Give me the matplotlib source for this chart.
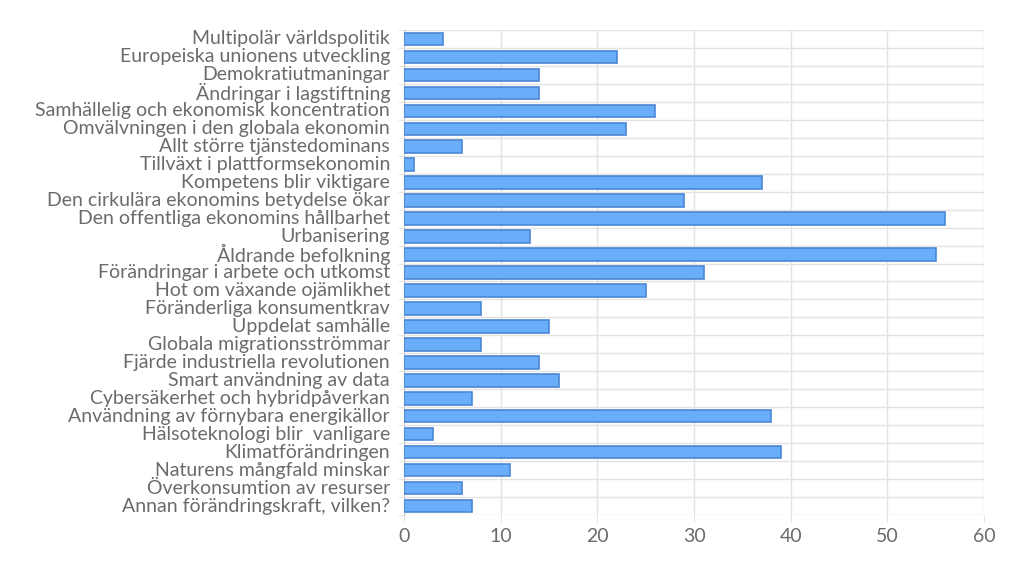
import matplotlib
matplotlib.use("Agg")
import matplotlib.pyplot as plt
import numpy as np

labels = [
    "Multipolär världspolitik",
    "Europeiska unionens utveckling",
    "Demokratiutmaningar",
    "Ändringar i lagstiftning",
    "Samhällelig och ekonomisk koncentration",
    "Omvälvningen i den globala ekonomin",
    "Allt större tjänstedominans",
    "Tillväxt i plattformsekonomin",
    "Kompetens blir viktigare",
    "Den cirkulära ekonomins betydelse ökar",
    "Den offentliga ekonomins hållbarhet",
    "Urbanisering",
    "Åldrande befolkning",
    "Förändringar i arbete och utkomst",
    "Hot om växande ojämlikhet",
    "Föränderliga konsumentkrav",
    "Uppdelat samhälle",
    "Globala migrationsströmmar",
    "Fjärde industriella revolutionen",
    "Smart användning av data",
    "Cybersäkerhet och hybridpåverkan",
    "Användning av förnybara energikällor",
    "Hälsoteknologi blir  vanligare",
    "Klimatförändringen",
    "Naturens mångfald minskar",
    "Överkonsumtion av resurser",
    "Annan förändringskraft, vilken?",
]
values = [4, 22, 14, 14, 26, 23, 6, 1, 37, 29, 56, 13, 55, 31, 25, 8,
          15, 8, 14, 16, 7, 38, 3, 39, 11, 6, 7]
xticks = [0, 10, 20, 30, 40, 50, 60]

plt.rcParams['font.family'] = ['Lato', 'DejaVu Sans']
txt = "#6b6b6b"
grid = "#e3e3e3"

fig = plt.figure(figsize=(10.24, 5.65), dpi=100)
ax = fig.add_axes([404/1024, 1 - 515/565, 580/1024, 485/565])

n = len(labels)
y = np.arange(n)
ax.barh(y, values, height=0.7, color="#6aaefa", edgecolor="#4a86d6", linewidth=1.2, zorder=3)

ax.set_xlim(0, 60)
ax.set_ylim(n - 0.5, -0.5)
ax.set_xticks(xticks)
ax.set_xticklabels([str(t) for t in xticks], fontsize=14, color=txt)
ax.set_yticks(y)
ax.set_yticklabels(labels, fontsize=14, color=txt)
ax.tick_params(axis="y", length=0, pad=10)
ax.tick_params(axis="x", length=5, color=grid, pad=4)

ax.set_yticks(np.arange(n + 1) - 0.5, minor=True)
ax.tick_params(axis="y", which="minor", length=4, color=grid)
ax.grid(axis="y", which="minor", color=grid, linewidth=1, zorder=0)
ax.grid(axis="x", which="major", color=grid, linewidth=1, zorder=0)

for s in ["top", "right", "bottom"]:
    ax.spines[s].set_visible(False)
ax.spines["left"].set_color("#cccccc")

for lab in ax.get_yticklabels():
    lab.set_verticalalignment("center")

fig.savefig("out.png", dpi=100)
